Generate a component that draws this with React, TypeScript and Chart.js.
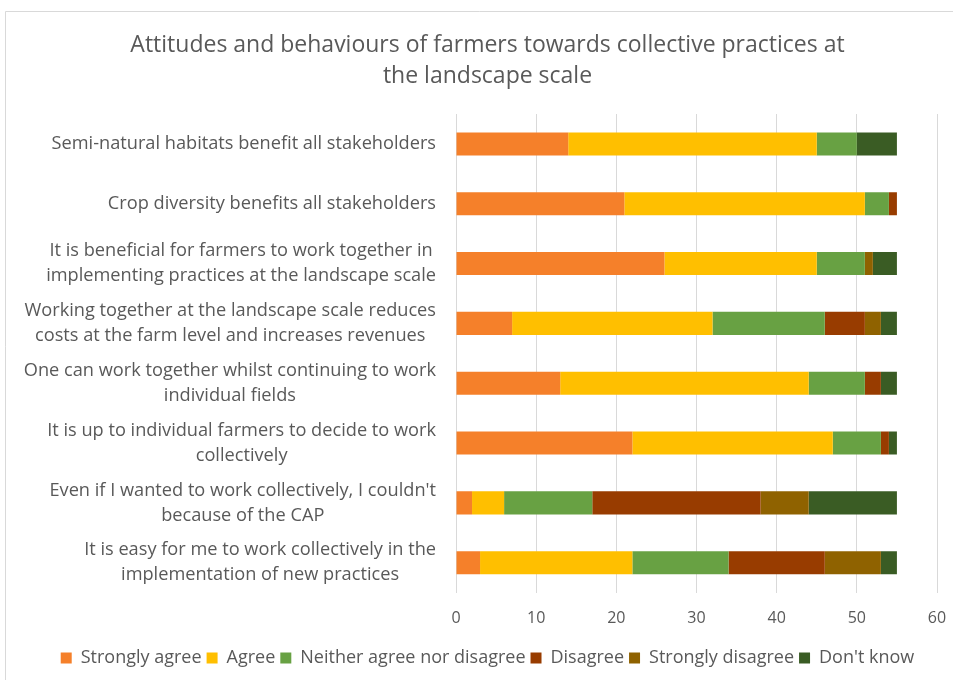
import { useEffect, useRef } from "react";
import { Chart, registerables } from "chart.js";

Chart.register(...registerables);

const titleLines = [
  "Attitudes and behaviours of farmers towards collective practices at",
  "the landscape scale",
];

const categories: (string | string[])[] = [
  "Semi-natural habitats benefit all stakeholders",
  "Crop diversity benefits all stakeholders",
  ["It is beneficial for farmers to work together in", "implementing practices at the landscape scale"],
  ["Working together at the landscape scale reduces", "costs at the farm level and increases revenues"],
  ["One can work together whilst continuing to work", "individual fields"],
  ["It is up to individual farmers to decide to work", "collectively"],
  ["Even if I wanted to work collectively, I couldn't", "because of the CAP"],
  ["It is easy for me to work collectively in the", "implementation of new practices"],
];

const seriesNames = [
  "Strongly agree",
  "Agree",
  "Neither agree nor disagree",
  "Disagree",
  "Strongly disagree",
  "Don't know",
];

const stronglyAgree = [14, 21, 26, 7, 13, 22, 2, 3];
const agree = [31, 30, 19, 25, 31, 25, 4, 19];
const neither = [5, 3, 6, 14, 7, 6, 11, 12];
const disagree = [0, 1, 0, 5, 2, 1, 21, 12];
const stronglyDisagree = [0, 0, 1, 2, 0, 0, 6, 7];
const dontKnow = [5, 0, 3, 2, 2, 1, 11, 2];

const xMin = 0;
const xMax = 60;
const xStep = 10;

const seriesColors = ["#F5802A", "#FFBF00", "#68A143", "#983C00", "#8F6200", "#3A5C24"];

const FONT = "'Open Sans', 'Noto Sans', 'DejaVu Sans', sans-serif";
const TEXT = "#595959";

export default function App() {
  const ref = useRef<HTMLCanvasElement | null>(null);

  useEffect(() => {
    if (!ref.current) return;

    const framePlugin = {
      id: "frame",
      beforeDraw(chart: any) {
        const ctx = chart.ctx;
        ctx.save();
        ctx.fillStyle = "#ffffff";
        ctx.fillRect(0, 0, chart.width, chart.height);
        ctx.strokeStyle = "#d9d9d9";
        ctx.lineWidth = 1;
        ctx.beginPath();
        ctx.moveTo(5.5, chart.height + 5);
        ctx.lineTo(5.5, 11.5);
        ctx.lineTo(chart.width + 5, 11.5);
        ctx.stroke();
        ctx.restore();
      },
    };

    const labelPlugin = {
      id: "wrappedLabels",
      afterDraw(chart: any) {
        const ctx = chart.ctx;
        const yScale = chart.scales.y;
        ctx.save();
        ctx.font = `18.2px ${FONT}`;
        ctx.fillStyle = TEXT;
        ctx.textAlign = "center";
        ctx.textBaseline = "middle";
        const right = chart.chartArea.left - 20;
        const lh = 25;
        categories.forEach((lab, i) => {
          const lines = Array.isArray(lab) ? lab : [lab];
          const w = Math.max(...lines.map((l) => ctx.measureText(l).width));
          const cx = right - w / 2;
          const cy = yScale.getPixelForTick(i);
          lines.forEach((l, j) => {
            ctx.fillText(l, cx, cy + (j - (lines.length - 1) / 2) * lh);
          });
        });
        ctx.restore();
      },
    };

    const values = [stronglyAgree, agree, neither, disagree, stronglyDisagree, dontKnow];

    const chart = new Chart(ref.current, {
      type: "bar",
      data: {
        labels: categories.map((c) => (Array.isArray(c) ? c.join(" ") : c)),
        datasets: seriesNames.map((name, k) => ({
          label: name,
          data: values[k],
          backgroundColor: seriesColors[k],
          borderWidth: 0,
          barPercentage: 0.385,
          categoryPercentage: 1,
        })),
      },
      options: {
        indexAxis: "y",
        responsive: false,
        animation: false,
        layout: { padding: { left: 38, right: 16, top: 0, bottom: 3 } },
        scales: {
          x: {
            stacked: true,
            min: xMin,
            max: xMax,
            ticks: {
              stepSize: xStep,
              color: TEXT,
              font: { family: FONT, size: 16 },
              padding: 16,
            },
            grid: { color: "#d9d9d9", lineWidth: 1, drawTicks: false },
            border: { display: false },
            afterFit(scale: any) {
              scale.height = 51.4;
              scale.paddingLeft = 0;
              scale.paddingRight = 0;
            },
          },
          y: {
            stacked: true,
            ticks: { display: false },
            grid: { display: false, drawTicks: false },
            border: { display: false },
            afterFit(scale: any) {
              scale.width = 418;
            },
          },
        },
        plugins: {
          title: {
            display: true,
            text: titleLines,
            color: TEXT,
            font: { family: FONT, size: 23, weight: "normal", lineHeight: 31 / 23 },
            padding: { top: 30, bottom: 22 },
          },
          legend: {
            position: "bottom",
            labels: {
              boxWidth: 11,
              boxHeight: 11,
              color: TEXT,
              font: { family: FONT, size: 18 },
              padding: 5,
            },
          },
          tooltip: { enabled: false },
        },
      },
      plugins: [framePlugin, labelPlugin],
    });

    return () => chart.destroy();
  }, []);

  return (
    <div style={{ position: "fixed", left: 0, top: 0, width: 953, height: 680 }}>
      <canvas ref={ref} width={953} height={680} style={{ width: 953, height: 680, display: "block" }} />
    </div>
  );
}
